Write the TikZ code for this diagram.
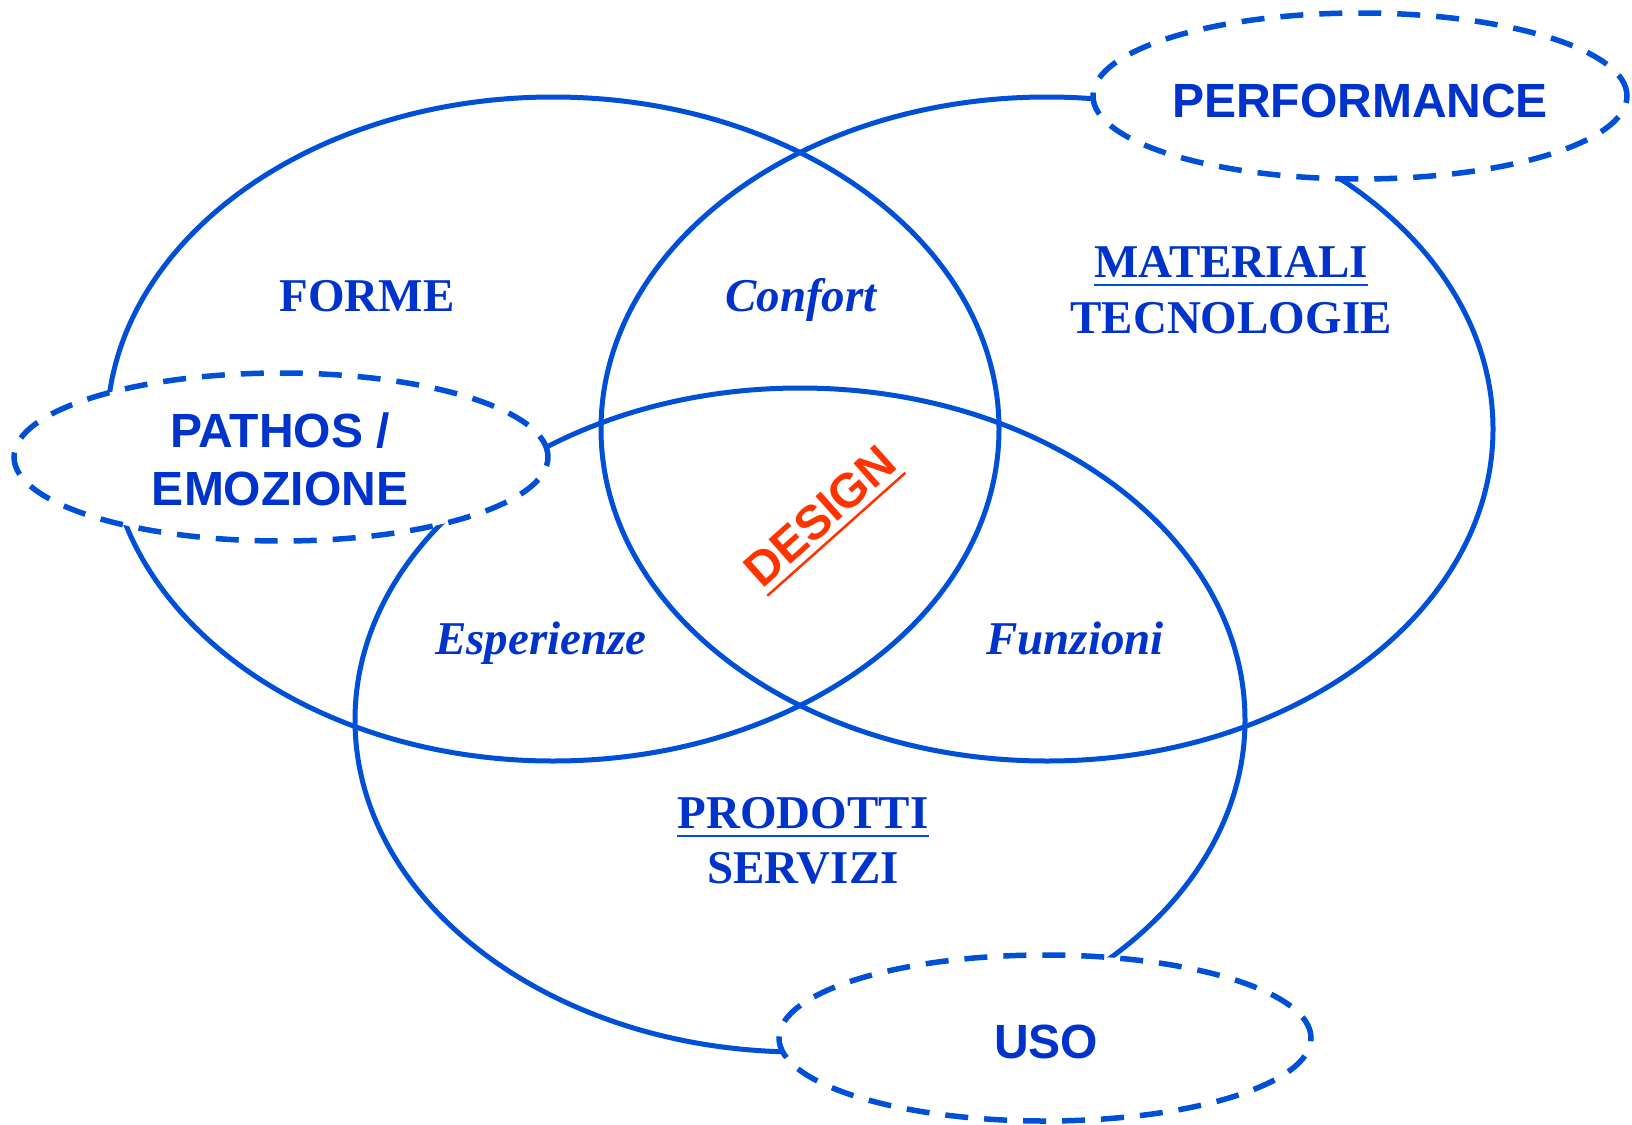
\documentclass[tikz,border=0pt]{standalone}
\usepackage{fontspec}
\setmainfont{Liberation Serif}
\newfontfamily\headsans{Liberation Sans}
\usetikzlibrary{shapes.geometric,calc}

\definecolor{vennblue}{RGB}{0,80,215}
\definecolor{labelblue}{RGB}{0,51,204}
\definecolor{designred}{RGB}{255,51,0}

\tikzset{
  venn/.style={draw=vennblue, line width=2.5pt},
  tag/.style={ellipse, draw=vennblue, fill=white, line width=2.75pt,
              dash pattern=on 11.5pt off 8pt, inner sep=0pt, outer sep=0pt},
  serif/.style={text=labelblue, font=\fontsize{23.5}{28}\selectfont\bfseries,
                inner sep=0pt, anchor=base},
  serifit/.style={serif, font=\fontsize{23.5}{28}\selectfont\bfseries\itshape},
  sans/.style={text=labelblue, font=\headsans\fontsize{24}{28}\selectfont\bfseries,
               inner sep=0pt, anchor=base},
  uline/.style={draw=vennblue, line width=1.4pt},
}

\begin{document}
\begin{tikzpicture}[x=0.5pt, y=-0.5pt]
  \useasboundingbox (0,0) rectangle (1632,1124);
  \fill[white] (0,0) rectangle (1632,1124);

  % three overlapping sets
  \draw[venn] (553,429)  ellipse [x radius=223pt, y radius=166pt];
  \draw[venn] (1047,429) ellipse [x radius=223pt, y radius=166pt];
  \draw[venn] (800,720)  ellipse [x radius=222.5pt, y radius=166pt];

  % dashed tags sitting on the outlines
  \node[tag, minimum width=267pt, minimum height=84pt] (pathos) at (281,457) {};
  \node[tag, minimum width=267pt, minimum height=83pt] (perf)   at (1360,96) {};
  \node[tag, minimum width=266pt, minimum height=83pt] (uso)    at (1045,1038) {};

  % tag labels
  \node[sans] (pathos1) at (280,447.5) {PATHOS /};
  \node[sans] (pathos2) at (280,505)   {EMOZIONE};
  \node[sans] (perflbl) at (1360,117.5) {PERFORMANCE};
  \node[sans] (usolbl)  at (1046,1058.5) {USO};

  % set labels
  \node[serif] (forme) at (367,311) {FORME};
  \node[serif] (mat)   at (1231,277) {MATERIALI};
  \node[serif] (tec)   at (1231,333) {TECNOLOGIE};
  \node[serif] (prod)  at (803,828)  {PRODOTTI};
  \node[serif] (serv)  at (803,883)  {SERVIZI};
  \draw[uline] ([yshift=-4pt]mat.base west)  -- ([yshift=-4pt]mat.base east);
  \draw[uline] ([yshift=-4pt]prod.base west) -- ([yshift=-4pt]prod.base east);

  % pairwise overlaps
  \node[serifit] (confort) at (801,311)  {Confort};
  \node[serifit] (esper)   at (541,654)  {Esperienze};
  \node[serifit] (funz)    at (1075,654) {Funzioni};

  % centre
  \node[sans, text=designred, rotate=41.7, anchor=center] (design) at (820,516) {DESIGN};
  \draw[draw=designred, line width=1.25pt]
    ($(design.base west)!4pt!-90:(design.base east)$) --
    ($(design.base east)!4pt!90:(design.base west)$);
\end{tikzpicture}
\end{document}
